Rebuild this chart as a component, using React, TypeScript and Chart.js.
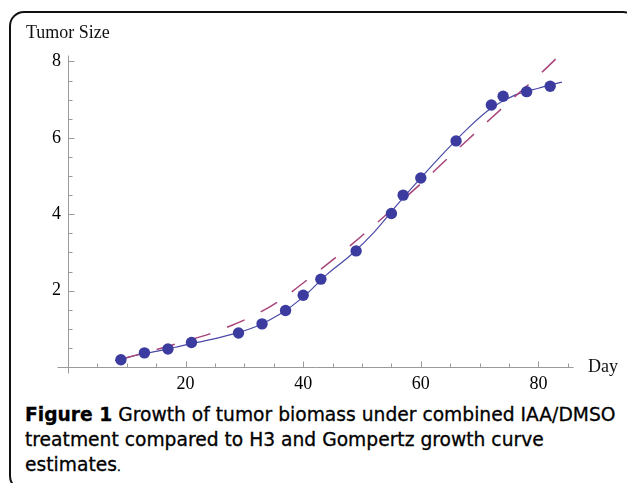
import React, { useEffect, useRef } from "react";
import { Chart, registerables } from "chart.js";

Chart.register(...registerables);

// Observed tumor sizes (blue dots)
const obsDays = [9, 13, 17, 21, 29, 33, 37, 40, 43, 49, 55, 57, 60, 66, 72, 74, 78, 82];
const obsSizes = [0.19, 0.37, 0.47, 0.64, 0.89, 1.13, 1.48, 1.88, 2.3, 3.04, 4.02, 4.5, 4.95, 5.92, 6.86, 7.09, 7.21, 7.35];

// Solid blue fitted curve
const fitDays = [8, 12, 16, 20, 24, 28, 32, 36, 40, 44, 48, 52, 56, 60, 64, 68, 72, 76, 80, 84];
const fitSizes = [0.17, 0.32, 0.44, 0.58, 0.71, 0.86, 1.06, 1.38, 1.83, 2.42, 2.92, 3.52, 4.25, 4.95, 5.62, 6.25, 6.78, 7.12, 7.3, 7.46];

// Dashed red-purple estimate curve
const estDays = [9, 12, 16, 20, 24, 28, 32, 36, 40, 44, 48, 52, 56, 60, 64, 68, 72, 76, 80, 84];
const estSizes = [0.2, 0.33, 0.5, 0.68, 0.86, 1.1, 1.38, 1.74, 2.2, 2.68, 3.18, 3.7, 4.25, 4.8, 5.38, 5.95, 6.52, 7.08, 7.63, 8.22];

// Axes
const xTickLabels = [20, 40, 60, 80];
const xMinorTicks = [5, 10, 15, 25, 30, 35, 45, 50, 55, 65, 70, 75, 85];
const yTickLabels = [2, 4, 6, 8];
const yMinorTicks = [0.5, 1, 1.5, 2.5, 3, 3.5, 4.5, 5, 5.5, 6.5, 7, 7.5];
const xAxisRange = [-1.9, 85.8];
const yAxisRange = [-0.15, 8.17];

const serif = "'Liberation Serif', 'Times New Roman', serif";

const axesPlugin = {
  id: "mmaAxes",
  beforeDatasetsDraw(chart: any) {
    const { ctx } = chart;
    const xs = chart.scales.x;
    const ys = chart.scales.y;
    const px = (v: number) => Math.round(xs.getPixelForValue(v)) + 0.5;
    const py = (v: number) => Math.round(ys.getPixelForValue(v)) + 0.5;
    const x0 = px(0);
    const y0 = py(0);
    ctx.save();
    ctx.strokeStyle = "#9a9a9a";
    ctx.lineWidth = 1;
    ctx.beginPath();
    ctx.moveTo(px(xAxisRange[0]), y0);
    ctx.lineTo(px(xAxisRange[1]), y0);
    ctx.moveTo(x0, py(yAxisRange[0]));
    ctx.lineTo(x0, py(yAxisRange[1]));
    xTickLabels.forEach((v) => {
      ctx.moveTo(px(v), y0);
      ctx.lineTo(px(v), y0 - 6);
    });
    xMinorTicks.forEach((v) => {
      ctx.moveTo(px(v), y0);
      ctx.lineTo(px(v), y0 - 4);
    });
    yTickLabels.forEach((v) => {
      ctx.moveTo(x0, py(v));
      ctx.lineTo(x0 + 6, py(v));
    });
    yMinorTicks.forEach((v) => {
      ctx.moveTo(x0, py(v));
      ctx.lineTo(x0 + 4, py(v));
    });
    ctx.stroke();
    ctx.restore();
  },
};

function TumorChart() {
  const ref = useRef<HTMLCanvasElement | null>(null);
  useEffect(() => {
    if (!ref.current) return;
    const chart = new Chart(ref.current, {
      type: "scatter",
      data: {
        datasets: [
          {
            label: "Observed",
            data: obsDays.map((d, i) => ({ x: d, y: obsSizes[i] })),
            backgroundColor: "#3c3ca0",
            borderWidth: 0,
            pointRadius: 5.7,
            pointHoverRadius: 5.7,
            order: 1,
          },
          {
            label: "Estimate",
            data: estDays.map((d, i) => ({ x: d, y: estSizes[i] })),
            showLine: true,
            borderColor: "#a8457a",
            borderWidth: 1.5,
            borderDash: [19, 18],
            pointRadius: 0,
            cubicInterpolationMode: "monotone",
            order: 2,
          },
          {
            label: "Fit",
            data: fitDays.map((d, i) => ({ x: d, y: fitSizes[i] })),
            showLine: true,
            borderColor: "#4a4aa8",
            borderWidth: 1.2,
            pointRadius: 0,
            cubicInterpolationMode: "monotone",
            order: 3,
          },
        ],
      },
      options: {
        animation: false,
        responsive: false,
        events: [],
        layout: { padding: { left: 0, top: 55, right: 627 - 68 - 85.8 * 5.88, bottom: 0 } },
        plugins: { legend: { display: false }, tooltip: { enabled: false } },
        scales: {
          x: {
            type: "linear",
            min: 0,
            max: xAxisRange[1],
            grid: { display: false, drawTicks: false },
            border: { display: false },
            ticks: {
              padding: 6,
              color: "#000",
              font: { family: serif, size: 18 },
              maxRotation: 0,
            },
            afterBuildTicks: (s: any) => {
              s.ticks = xTickLabels.map((v) => ({ value: v }));
            },
            afterFit: (s: any) => {
              s.height = 33;
            },
          },
          y: {
            type: "linear",
            min: 0,
            max: yAxisRange[1],
            grid: { display: false, drawTicks: false },
            border: { display: false },
            ticks: {
              padding: 7,
              color: "#000",
              font: { family: serif, size: 18 },
            },
            afterBuildTicks: (s: any) => {
              s.ticks = yTickLabels.map((v) => ({ value: v }));
            },
            afterFit: (s: any) => {
              s.width = 68;
            },
          },
        },
      },
      plugins: [axesPlugin],
    } as any);
    return () => chart.destroy();
  }, []);
  return (
    <canvas
      ref={ref}
      width={627}
      height={400}
      style={{ position: "absolute", left: 0, top: 0, width: 627, height: 400 }}
    />
  );
}

export default function App() {
  return (
    <div
      style={{
        position: "fixed",
        left: 0,
        top: 0,
        width: 627,
        height: 483,
        overflow: "hidden",
        background: "#fff",
      }}
    >
      <div
        style={{
          position: "absolute",
          left: 9,
          top: 11,
          width: 629,
          height: 480,
          boxSizing: "border-box",
          border: "2px solid #111",
          borderRadius: 15,
        }}
      />
      <TumorChart />
      <div
        style={{
          position: "absolute",
          left: 26,
          top: 23,
          fontFamily: serif,
          fontSize: 18,
          lineHeight: "18px",
          color: "#111",
          whiteSpace: "nowrap",
        }}
      >
        Tumor Size
      </div>
      <div
        style={{
          position: "absolute",
          left: 588,
          top: 357,
          fontFamily: serif,
          fontSize: 18,
          lineHeight: "18px",
          color: "#111",
          whiteSpace: "nowrap",
        }}
      >
        Day
      </div>
      <div
        style={{
          position: "absolute",
          left: 25,
          top: 402,
          fontFamily: "'DejaVu Sans', sans-serif",
          fontSize: 18.7,
          lineHeight: "25px",
          color: "#000",
          whiteSpace: "nowrap",
          WebkitTextStroke: "0.3px #000",
        }}
      >
        <b>Figure 1</b> Growth of tumor biomass under combined IAA/DMSO
        <br />
        treatment compared to H3 and Gompertz growth curve
        <br />
        estimates<span style={{ fontSize: 12 }}>.</span>
      </div>
    </div>
  );
}
